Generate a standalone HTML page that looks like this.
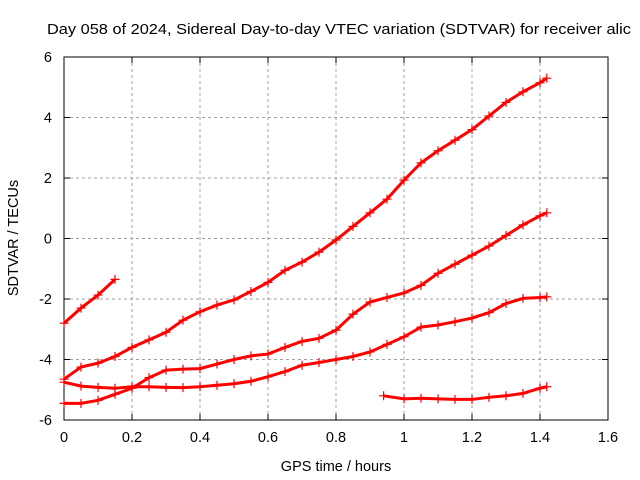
<!DOCTYPE html>
<html><head><meta charset="utf-8"><style>
body{margin:0;background:#fff;overflow:hidden}
svg{display:block;font-family:"Liberation Sans",sans-serif}
</style></head><body>
<svg id="chart" width="640" height="480" viewBox="0 0 640 480" xmlns="http://www.w3.org/2000/svg">
<rect width="640" height="480" fill="#fff"/>
<text x="47" y="34" font-size="14.5" textLength="584" lengthAdjust="spacingAndGlyphs" fill="#000">Day 058 of 2024, Sidereal Day-to-day VTEC variation (SDTVAR) for receiver alic</text>
<g id="grid"></g>
<g id="axes"></g>
<g id="series"></g>
<text x="336" y="471" font-size="14.5" text-anchor="middle">GPS time / hours</text>
<text transform="translate(18,238) rotate(-90)" font-size="14.5" text-anchor="middle">SDTVAR / TECUs</text>
</svg>
<script>
const xTicks=[0,0.2,0.4,0.6,0.8,1,1.2,1.4,1.6];
const xTickLabels=["0","0.2","0.4","0.6","0.8","1","1.2","1.4","1.6"];
const yTicks=[-6,-4,-2,0,2,4,6];
const yTickLabels=["-6","-4","-2","0","2","4","6"];
const xA=[0,0.05,0.1,0.15];
const yA=[-2.8,-2.3,-1.87,-1.35];
const xFull=[0,0.05,0.1,0.15,0.2,0.25,0.3,0.35,0.4,0.45,0.5,0.55,0.6,0.65,0.7,0.75,0.8,0.85,0.9,0.95,1.0,1.05,1.1,1.15,1.2,1.25,1.3,1.35,1.4,1.42];
const yB=[-4.65,-4.25,-4.12,-3.9,-3.6,-3.35,-3.1,-2.7,-2.42,-2.2,-2.03,-1.75,-1.45,-1.05,-0.78,-0.45,-0.05,0.4,0.85,1.3,1.93,2.5,2.9,3.25,3.6,4.05,4.5,4.85,5.15,5.3];
const yC=[-4.75,-4.88,-4.92,-4.95,-4.9,-4.9,-4.92,-4.93,-4.9,-4.85,-4.8,-4.72,-4.57,-4.4,-4.19,-4.1,-4.0,-3.9,-3.75,-3.5,-3.25,-2.93,-2.86,-2.75,-2.63,-2.45,-2.15,-1.98,-1.95,-1.93];
const yD=[-5.45,-5.45,-5.35,-5.15,-4.95,-4.6,-4.35,-4.32,-4.3,-4.15,-4.0,-3.88,-3.82,-3.6,-3.4,-3.3,-3.03,-2.5,-2.1,-1.95,-1.8,-1.55,-1.15,-0.85,-0.55,-0.25,0.1,0.45,0.75,0.85];
const xE=[0.94,1.0,1.05,1.1,1.15,1.2,1.25,1.3,1.35,1.4,1.42];
const yE=[-5.2,-5.3,-5.28,-5.3,-5.32,-5.32,-5.25,-5.2,-5.12,-4.95,-4.9];

const L=64,R=608,T=57,B=420;
const sx=v=>L+(v-0)/(1.6-0)*(R-L);
const sy=v=>B-(v+6)/12*(B-T);
const NS="http://www.w3.org/2000/svg";
function mk(tag,attrs,parent){const e=document.createElementNS(NS,tag);for(const k in attrs)e.setAttribute(k,attrs[k]);parent.appendChild(e);return e;}
const grid=document.getElementById('grid'),axes=document.getElementById('axes'),ser=document.getElementById('series');
xTicks.forEach((t,i)=>{const x=sx(t);
 if(i>0&&i<xTicks.length-1){const g=mk('line',{x1:x,y1:T,x2:x,y2:B,stroke:'#a0a0a0','stroke-dasharray':'3,3'},grid);
 
 }
 mk('line',{x1:x,y1:B,x2:x,y2:B-6,stroke:'#000'},axes);
 mk('line',{x1:x,y1:T,x2:x,y2:T+6,stroke:'#000'},axes);
 const tx=mk('text',{x:x,y:B+22,'font-size':'14.5','text-anchor':'middle'},axes);tx.textContent=xTickLabels[i];
 
 
});
yTicks.forEach((t,i)=>{const y=sy(t);
 if(i>0&&i<yTicks.length-1){const g=mk('line',{x1:L,y1:y,x2:R,y2:y,stroke:'#a0a0a0','stroke-dasharray':'3,3'},grid);
 
 }
 mk('line',{x1:L,y1:y,x2:L+6,y2:y,stroke:'#000'},axes);
 mk('line',{x1:R,y1:y,x2:R-6,y2:y,stroke:'#000'},axes);
 const tx=mk('text',{x:L-12,y:y+5,'font-size':'14.5','text-anchor':'end'},axes);tx.textContent=yTickLabels[i];
 
 
});
const fr=mk('rect',{x:L,y:T,width:R-L,height:B-T,fill:'none',stroke:'#000','stroke-width':1},axes);


function series(xs,ys,name){
 const g=mk('g',{},ser);
 
 
 mk('polyline',{points:xs.map((x,i)=>sx(x)+','+sy(ys[i])).join(' '),fill:'none',stroke:'#f00','stroke-width':3},g);
 xs.forEach((x,i)=>{const px=sx(x),py=sy(ys[i]);
  const p=mk('path',{d:`M${px-4.5},${py}h9M${px},${py-4.5}v9`,stroke:'#f00','stroke-width':1.2},g);
  
  
 });
}
series(xA,yA,'series-a');
series(xFull,yB,'series-b');
series(xFull,yC,'series-c');
series(xFull,yD,'series-d');
series(xE,yE,'series-e');
</script>
</body></html>
